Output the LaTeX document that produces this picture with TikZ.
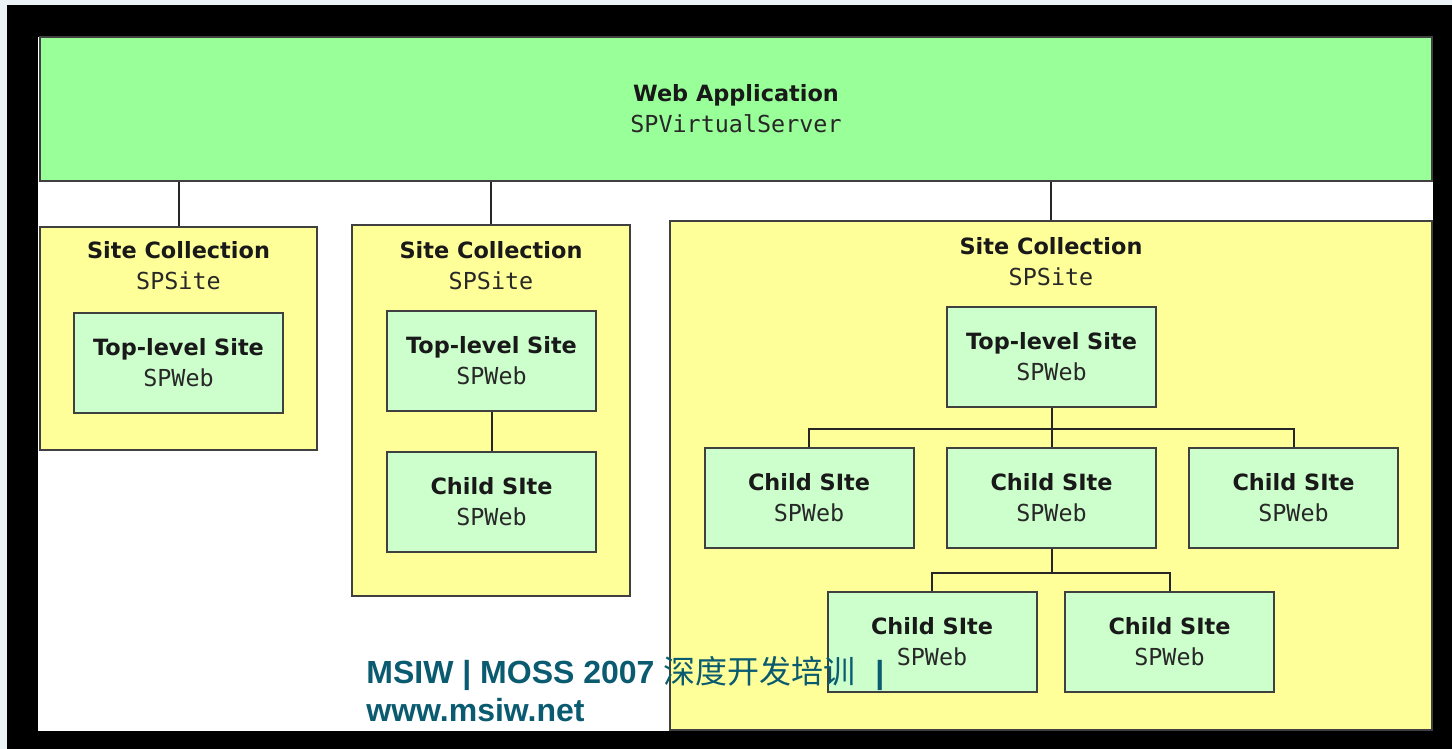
\documentclass[tikz,border=0pt]{standalone}
\usepackage{fontspec}
\usepackage{tikz}
\usetikzlibrary{positioning}

\newfontfamily\boxsans{DejaVu Sans}
\newfontfamily\boxmono{DejaVu Sans Mono}
\newfontfamily\footsans{Liberation Sans}
\newfontfamily\cjk{Noto Sans CJK SC}

\definecolor{appgreen}{RGB}{153,255,153}
\definecolor{colyellow}{RGB}{255,255,153}
\definecolor{webgreen}{RGB}{204,255,204}
\definecolor{edgegray}{RGB}{64,64,64}
\definecolor{objgray}{RGB}{40,40,40}
\definecolor{footteal}{RGB}{10,90,112}
\definecolor{pagebg}{RGB}{236,243,247}

\newcommand{\objname}[1]{{\boxmono\mdseries\color{objgray}\fontsize{11.7}{15.5}\selectfont #1}}

\tikzset{
  box text/.style={align=center, inner sep=0pt, text=black!90,
    font=\boxsans\bfseries\fontsize{11.2}{15.5}\selectfont},
  app node/.style={rectangle, draw=edgegray, line width=1pt, fill=appgreen,
    minimum width=696pt, minimum height=72pt, box text},
  col node/.style={rectangle, draw=edgegray, line width=1pt, fill=colyellow, inner sep=0pt},
  web node/.style={rectangle, draw=edgegray, line width=1pt, fill=webgreen,
    minimum width=104.5pt, minimum height=50pt, box text},
  foot node/.style={inner sep=0pt, text=footteal, anchor=base west,
    font=\footsans\bfseries\fontsize{16}{19}\selectfont},
  link/.style={draw=black!85, line width=1pt}
}

\begin{document}
\begin{tikzpicture}[x=0.5pt, y=-0.5pt]
\useasboundingbox (0,0) rectangle (1452,749);

% frame
\fill[pagebg] (0,0) rectangle (1452,749);
\fill[black] (7,5) rectangle (1452,749);
\fill[white] (38,37) rectangle (1433,731);

% web application
\node[app node] (webapp) at (736,109) {Web Application\\\objname{SPVirtualServer}};

% site collections
\node[col node, minimum width=138.5pt, minimum height=111.5pt] (sc1) at (178.5,338.5) {};
\node[box text, below=7.5pt of sc1.north] (sc1t) {Site Collection\\\objname{SPSite}};

\node[col node, minimum width=139pt, minimum height=185.5pt] (sc2) at (491,410.5) {};
\node[box text, below=8.5pt of sc2.north] (sc2t) {Site Collection\\\objname{SPSite}};

\node[col node, minimum width=381pt, minimum height=254.5pt] (sc3) at (1051,475.5) {};
\node[box text, below=8.5pt of sc3.north] (sc3t) {Site Collection\\\objname{SPSite}};

\draw[link] (webapp.south -| sc1.north) -- (sc1.north);
\draw[link] (webapp.south -| sc2.north) -- (sc2.north);
\draw[link] (webapp.south -| sc3.north) -- (sc3.north);

% sites
\node[web node] (top1) at (178.5,363) {Top-level Site\\\objname{SPWeb}};

\node[web node] (top2) at (491.5,361) {Top-level Site\\\objname{SPWeb}};
\node[web node, below=19.5pt of top2] (child2) {Child SIte\\\objname{SPWeb}};
\draw[link] (top2) -- (child2);

\node[web node] (top3) at (1051.5,357) {Top-level Site\\\objname{SPWeb}};
\node[web node] (c3a) at (809,497.5) {Child SIte\\\objname{SPWeb}};
\node[web node] (c3b) at (1051.5,497.5) {Child SIte\\\objname{SPWeb}};
\node[web node] (c3c) at (1293.5,497.5) {Child SIte\\\objname{SPWeb}};
\node[web node] (c3d) at (932,642) {Child SIte\\\objname{SPWeb}};
\node[web node] (c3e) at (1169.5,642) {Child SIte\\\objname{SPWeb}};

\draw[link] (top3.south) -- (c3b.north);
\draw[link] (top3.south) -- ++(0,21) -| (c3a.north);
\draw[link] (top3.south) -- ++(0,21) -| (c3c.north);
\draw[link] (c3b.south) -- ++(0,24) -| (c3d.north);
\draw[link] (c3b.south) -- ++(0,24) -| (c3e.north);

% footer
\node[foot node] (foot1) at (366,683) {MSIW | MOSS 2007 {\cjk\mdseries 深度开发培训}\hspace{10pt}|};
\node[foot node] (foot2) at (366,721) {www.msiw.net};

\end{tikzpicture}
\end{document}
